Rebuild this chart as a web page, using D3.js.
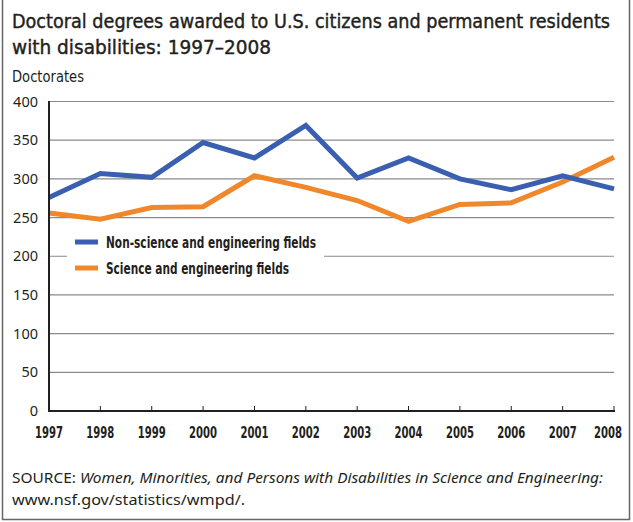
<!DOCTYPE html>
<html><head><meta charset="utf-8">
<script src="https://cdn.jsdelivr.net/npm/d3@7/dist/d3.min.js"></script>
<style>
html,body{margin:0;padding:0;background:#fff;}
svg{display:block;}
.cond{font-stretch:condensed;}
</style></head>
<body>
<script>
const years = [1997,1998,1999,2000,2001,2002,2003,2004,2005,2006,2007,2008];
const nonSE = [276,307,302,347,327,369,301,327,300,286,304,287];
const se    = [256,248,263,264,304,289,272,245,267,269,296,328];
const yTicks = [0,50,100,150,200,250,300,350,400];
const seriesNames = ["Non-science and engineering fields","Science and engineering fields"];
const titleLines = ["Doctoral degrees awarded to U.S. citizens and permanent residents","with disabilities: 1997\u20132008"];

const W=633,H=522;
const svg=d3.select("body").append("svg").attr("width",W).attr("height",H);
const condensed="'DejaVu Sans Condensed','DejaVu Sans','Liberation Sans Narrow',sans-serif";
const body="'Noto Sans','Open Sans','Liberation Sans',sans-serif";

// frame
svg.append("path").attr("d","M2.5,0V519.5H629.5V0").attr("fill","none").attr("stroke","#666").attr("stroke-width",1.5);

// title
svg.append("text").attr("class","cond").attr("x",12).attr("y",28).attr("font-family",condensed).attr("font-size",20)
  .attr("fill","#231f20").attr("stroke","#231f20").attr("stroke-width",0.4)
  .attr("textLength",598).attr("lengthAdjust","spacingAndGlyphs").text(titleLines[0]);
svg.append("text").attr("class","cond").attr("x",12).attr("y",54).attr("font-family",condensed).attr("font-size",20)
  .attr("fill","#231f20").attr("stroke","#231f20").attr("stroke-width",0.4)
  .attr("textLength",259).attr("lengthAdjust","spacingAndGlyphs").text(titleLines[1]);
svg.append("text").attr("class","cond").attr("x",12).attr("y",82).attr("font-family",condensed).attr("font-size",15.5)
  .attr("fill","#231f20").attr("textLength",72).attr("lengthAdjust","spacingAndGlyphs").text("Doctorates");

const x=d3.scaleLinear().domain([1997,2008]).range([49,614]);
const y=d3.scaleLinear().domain([0,400]).range([411,101.5]);

// gridlines
svg.append("g").selectAll("line").data(yTicks.filter(d=>d>0)).join("line")
  .attr("x1",49).attr("x2",614).attr("y1",d=>y(d)).attr("y2",d=>y(d))
  .attr("stroke","#8a8a8a").attr("stroke-width",1.2);

// y axis labels
svg.append("g").selectAll("text").data(yTicks).join("text")
  .attr("x",38).attr("y",d=>y(d)+5).attr("text-anchor","end")
  .attr("font-family",body).attr("font-size",14.5).attr("fill","#231f20").text(d=>d);

// legend background
svg.append("rect").attr("x",67).attr("y",228).attr("width",257).attr("height",52).attr("fill","#fff");

// lines
const line=d3.line().x((d,i)=>x(years[i])).y(d=>y(d));
svg.append("path").datum(se).attr("d",line).attr("fill","none").attr("stroke","#f0882b").attr("stroke-width",5).attr("stroke-linejoin","miter");
svg.append("path").datum(nonSE).attr("d",line).attr("fill","none").attr("stroke","#3a5fb0").attr("stroke-width",5).attr("stroke-linejoin","miter");

// axes
svg.append("line").attr("x1",49).attr("x2",49).attr("y1",101).attr("y2",412).attr("stroke","#231f20").attr("stroke-width",2);
svg.append("line").attr("x1",48).attr("x2",615).attr("y1",411).attr("y2",411).attr("stroke","#231f20").attr("stroke-width",2.2);
svg.append("g").selectAll("line").data(years.slice(1)).join("line")
  .attr("x1",d=>x(d)).attr("x2",d=>x(d)).attr("y1",406).attr("y2",411)
  .attr("stroke","#231f20").attr("stroke-width",1);
svg.append("g").selectAll("text").data(years).join("text").attr("class","cond")
  .attr("x",d=>Math.min(x(d),608)).attr("y",438).attr("text-anchor","middle")
  .attr("font-family",condensed).attr("font-weight","bold").attr("font-size",15).attr("fill","#231f20")
  .attr("textLength",28).attr("lengthAdjust","spacingAndGlyphs").text(d=>d);

// legend
const legColors=["#3a5fb0","#f0882b"];
const legW=[210,183];
seriesNames.forEach((n,i)=>{
  const ly=242+i*26;
  svg.append("line").attr("x1",75).attr("x2",98).attr("y1",ly).attr("y2",ly).attr("stroke",legColors[i]).attr("stroke-width",5);
  svg.append("text").attr("class","cond").attr("x",106).attr("y",ly+6).attr("font-family",condensed).attr("font-weight","bold")
    .attr("font-size",15).attr("fill","#231f20").attr("textLength",legW[i]).attr("lengthAdjust","spacingAndGlyphs").text(n);
});

// source
const s1=svg.append("text").attr("x",12).attr("y",483).attr("font-family",body).attr("font-size",14.5).attr("fill","#231f20")
  .attr("textLength",591).attr("lengthAdjust","spacingAndGlyphs");
s1.append("tspan").text("SOURCE:  ");
s1.append("tspan").attr("font-style","italic").text("Women, Minorities, and Persons with Disabilities in Science and Engineering:");
svg.append("text").attr("x",12).attr("y",505).attr("font-family",body).attr("font-size",14.5).attr("fill","#231f20")
  .attr("textLength",233).attr("lengthAdjust","spacingAndGlyphs").text("www.nsf.gov/statistics/wmpd/.");
</script>
</body></html>
